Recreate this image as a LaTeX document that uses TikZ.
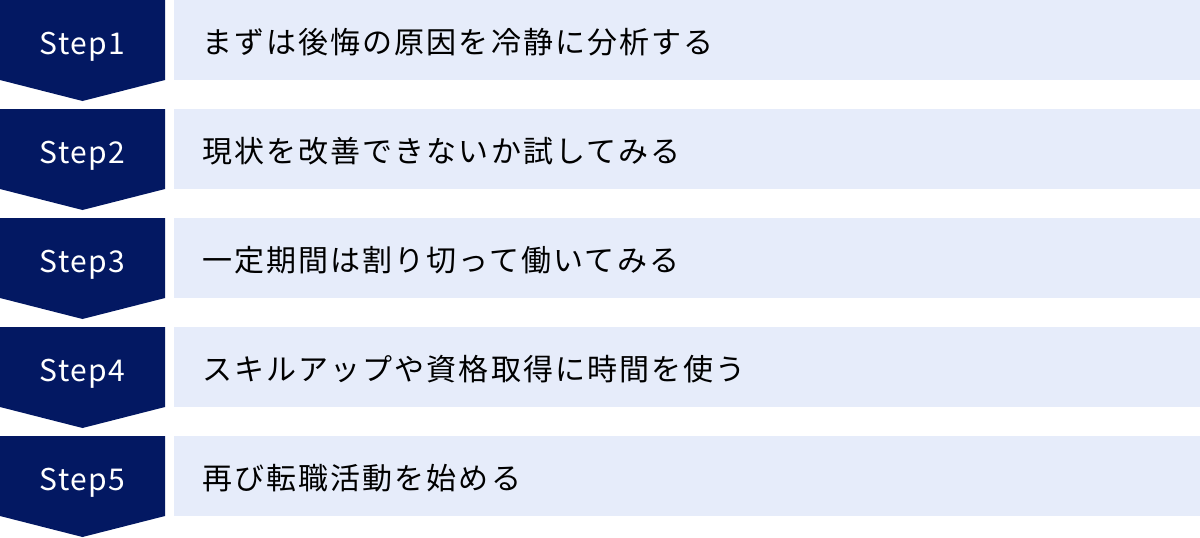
\documentclass[tikz,border=0pt]{standalone}
\usepackage{fontspec}
\setmainfont{Noto Sans CJK JP}[LetterSpace=5]
\newfontfamily\rowfont{Noto Sans CJK JP}[LetterSpace=7]
\usepackage{tikz}
\usetikzlibrary{positioning}

\definecolor{stepnavy}{RGB}{3,24,98}
\definecolor{rowblue}{RGB}{230,236,250}

\tikzset{
    chevron/.style={fill=stepnavy},
    steplabel/.style={text=white, anchor=base, inner sep=0pt, font=\fontsize{30}{36}\selectfont},
    rowbox/.style={fill=rowblue, draw=none, anchor=north west, minimum width=1026pt, minimum height=80pt, inner sep=0pt},
    rowtext/.style={text=black, anchor=base west, inner sep=0pt, font=\rowfont\fontsize{30}{36}\selectfont}
}

\begin{document}
\begin{tikzpicture}[x=1pt, y=-1pt]
        \useasboundingbox (0,0) rectangle (1200,538);

        % step 1
        \fill[chevron] (0,0) -- (165,0) -- (165,80) -- (82.5,101) -- (0,80) -- cycle;
        \node[steplabel] (s1) at (82.5,54) {Step1};
        \node[rowbox] (b1) at (174,0) {};
        \node[rowtext] (t1) at (202,53) {まずは後悔の原因を冷静に分析する};

        % step 2
        \fill[chevron] (0,109) -- (165,109) -- (165,189) -- (82.5,210) -- (0,189) -- cycle;
        \node[steplabel] (s2) at (82.5,163) {Step2};
        \node[rowbox] (b2) at (174,109) {};
        \node[rowtext] (t2) at (202,162) {現状を改善できないか試してみる};

        % step 3
        \fill[chevron] (0,218) -- (165,218) -- (165,298) -- (82.5,319) -- (0,298) -- cycle;
        \node[steplabel] (s3) at (82.5,272) {Step3};
        \node[rowbox] (b3) at (174,218) {};
        \node[rowtext] (t3) at (202,271) {一定期間は割り切って働いてみる};

        % step 4
        \fill[chevron] (0,327) -- (165,327) -- (165,407) -- (82.5,428) -- (0,407) -- cycle;
        \node[steplabel] (s4) at (82.5,381) {Step4};
        \node[rowbox] (b4) at (174,327) {};
        \node[rowtext] (t4) at (202,380) {スキルアップや資格取得に時間を使う};

        % step 5
        \fill[chevron] (0,436) -- (165,436) -- (165,516) -- (82.5,537) -- (0,516) -- cycle;
        \node[steplabel] (s5) at (82.5,490) {Step5};
        \node[rowbox] (b5) at (174,436) {};
        \node[rowtext] (t5) at (202,489) {再び転職活動を始める};
    \end{tikzpicture}
\end{document}
